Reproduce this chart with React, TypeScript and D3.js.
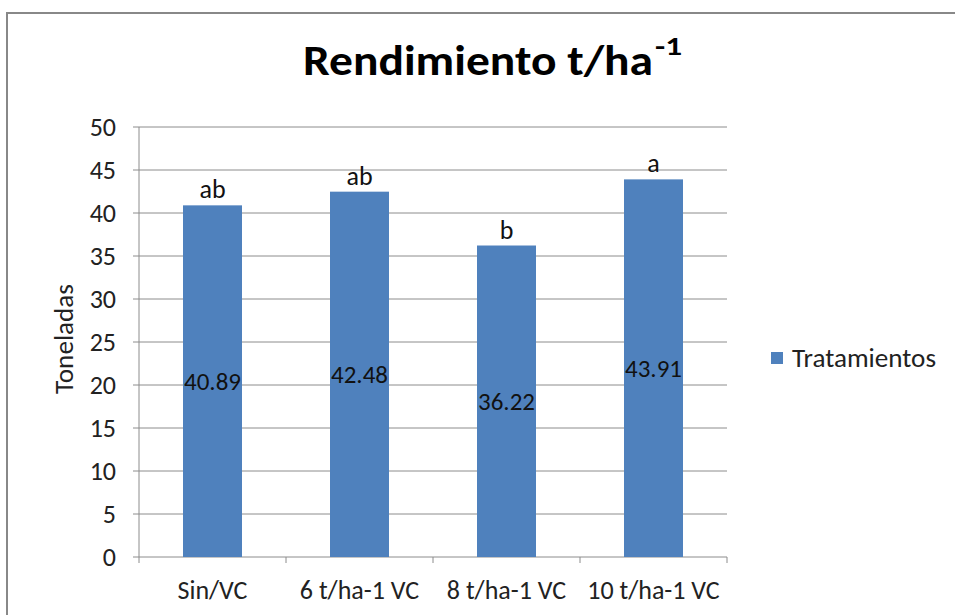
import React from "react";
import * as d3 from "d3";

const categories = ["Sin/VC", "6 t/ha-1 VC", "8 t/ha-1 VC", "10 t/ha-1 VC"];
const values = [40.89, 42.48, 36.22, 43.91];
const letters = ["ab", "ab", "b", "a"];
const yTicks = [0, 5, 10, 15, 20, 25, 30, 35, 40, 45, 50];
const seriesName = "Tratamientos";
const titleMain = "Rendimiento t/ha";
const titleSup = "-1";
const yTitle = "Toneladas";

const W = 955;
const H = 615;
const plot = { left: 139, right: 727, top: 127, bottom: 557 };
const FONT = "Carlito, Calibri, 'Open Sans', 'Noto Sans', sans-serif";

export default function App() {
  const xOuter = d3.scaleBand<string>().domain(categories).range([plot.left, plot.right]);
  const y = d3.scaleLinear().domain([0, 50]).range([plot.bottom, plot.top]);
  const bw = 59;
  return (
    <svg width={W} height={H} style={{ position: "absolute", left: 0, top: 0, background: "#fff" }} fontFamily={FONT}>
      <rect x={7} y={13} width={1100} height={800} fill="#fff" stroke="#888" strokeWidth={2} />
      <text x={303} y={75} textAnchor="start" fontWeight="bold" fontSize={43} fill="#000" textLength={350} lengthAdjust="spacingAndGlyphs">
        {titleMain}
      </text>
      <text x={655} y={55} textAnchor="start" fontWeight="bold" fontSize={26} fill="#000" textLength={27} lengthAdjust="spacingAndGlyphs">{titleSup}</text>
      {yTicks.map((t) => (
        <g key={t}>
          <line x1={plot.left - 6} x2={plot.right} y1={y(t)} y2={y(t)} stroke="#8c8c8c" strokeWidth={1} />
          <text x={116} y={y(t)} dy="0.35em" textAnchor="end" fontSize={26} fill="#222">{t}</text>
        </g>
      ))}
      <line x1={plot.left} x2={plot.left} y1={plot.top} y2={plot.bottom} stroke="#8c8c8c" />
      {categories.map((c, i) => (
        <line key={"t" + i} x1={xOuter(c)!} x2={xOuter(c)!} y1={plot.bottom} y2={plot.bottom + 6} stroke="#8c8c8c" />
      ))}
      <line x1={plot.right} x2={plot.right} y1={plot.bottom} y2={plot.bottom + 6} stroke="#8c8c8c" />
      {categories.map((c, i) => {
        const cx = xOuter(c)! + xOuter.bandwidth() / 2;
        const top = y(values[i]);
        return (
          <g key={c}>
            <rect x={cx - bw / 2} y={top} width={bw} height={plot.bottom - top} fill="#4F81BD" />
            <text x={cx} y={(top + plot.bottom) / 2} dy="0.35em" textAnchor="middle" fontSize={25} fill="#111">{values[i].toFixed(2)}</text>
            <text x={cx} y={top - 7} textAnchor="middle" fontSize={26} fill="#111">{letters[i]}</text>
            <text x={cx} y={590} dy="0.35em" textAnchor="middle" fontSize={26} fill="#222">{c}</text>
          </g>
        );
      })}
      <text transform={`translate(64,339) rotate(-90)`} textAnchor="middle" dy="0.35em" fontSize={27} fill="#222" textLength={110} lengthAdjust="spacingAndGlyphs">{yTitle}</text>
      <rect x={771} y={352} width={12} height={12} fill="#4F81BD" />
      <text x={792} y={358} dy="0.35em" fontSize={26} fill="#222" textLength={144} lengthAdjust="spacingAndGlyphs">{seriesName}</text>
    </svg>
  );
}
